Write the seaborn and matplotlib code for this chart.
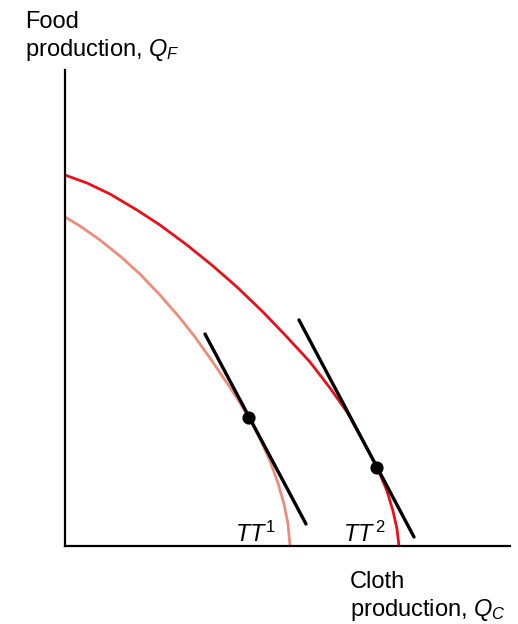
import matplotlib
matplotlib.use("Agg")
import matplotlib.pyplot as plt
import seaborn as sns
import pandas as pd

# production possibility frontiers (x = cloth, y = food)
tt1_x = [0, 15, 35, 55, 75, 95, 115, 130, 145, 160, 172, 184, 195, 205, 213, 219, 223, 225]
tt1_y = [329, 320, 306, 290, 272, 251, 228, 209, 188, 166, 148, 128, 107, 85, 63, 42, 22, 0]

tt2_x = [0, 22, 45, 72, 95, 122, 148, 172, 198, 222, 245, 265, 282, 298, 312, 322, 328, 332, 334]
tt2_y = [371, 363, 352, 336, 321, 301, 280, 259, 234, 209, 184, 158, 134, 105, 79, 55, 35, 17, 0]

# relative price lines (end points) and production points
price1_x = [140, 241]
price1_y = [212, 22]
price2_x = [234, 349]
price2_y = [226, 9]
points_x = [184, 312]
points_y = [128, 78]

sns.set_style("white")
plt.rcParams['font.family'] = ['Liberation Sans', 'DejaVu Sans']
plt.rcParams['text.color'] = 'black'
plt.rcParams['mathtext.fontset'] = 'custom'
plt.rcParams['mathtext.rm'] = 'Liberation Sans'
plt.rcParams['mathtext.it'] = 'Liberation Sans:italic'

fig = plt.figure(figsize=(5.18, 6.24), dpi=100)
ax = fig.add_axes([65 / 518, 78 / 624, 445 / 518, 476 / 624])

tt1 = pd.DataFrame({"cloth": tt1_x, "food": tt1_y})
tt2 = pd.DataFrame({"cloth": tt2_x, "food": tt2_y})
sns.lineplot(data=tt1, x="cloth", y="food", sort=False, color="#EE8C7C", lw=2, ax=ax)
sns.lineplot(data=tt2, x="cloth", y="food", sort=False, color="#E8101A", lw=2, ax=ax)
sns.lineplot(x=price1_x, y=price1_y, color="black", lw=2.4, ax=ax)
sns.lineplot(x=price2_x, y=price2_y, color="black", lw=2.4, ax=ax)
sns.scatterplot(x=points_x, y=points_y, color="black", s=90, edgecolor="none", zorder=5, ax=ax)

ax.set_xlim(0, 445)
ax.set_ylim(0, 476)
ax.set_xticks([])
ax.set_yticks([])
ax.set_xlabel("")
ax.set_ylabel("")
sns.despine(ax=ax)
for side in ["left", "bottom"]:
    ax.spines[side].set_linewidth(1.6)
    ax.spines[side].set_color("black")

fs = 17
ax.text(170, 4, r"$\mathit{TT}^1$", fontsize=fs, ha="left", va="baseline")
ax.text(278, 4, r"$\mathit{TT}^{\,2}$", fontsize=fs, ha="left", va="baseline")
ax.text(-40, 535, "Food\nproduction, $\\mathit{Q}_\\mathit{F}$", fontsize=fs,
        ha="left", va="top", linespacing=1.2, clip_on=False)
ax.text(285, -25, "Cloth\nproduction, $\\mathit{Q}_\\mathit{C}$", fontsize=fs,
        ha="left", va="top", linespacing=1.2, clip_on=False)

fig.savefig("out.png", dpi=100)
